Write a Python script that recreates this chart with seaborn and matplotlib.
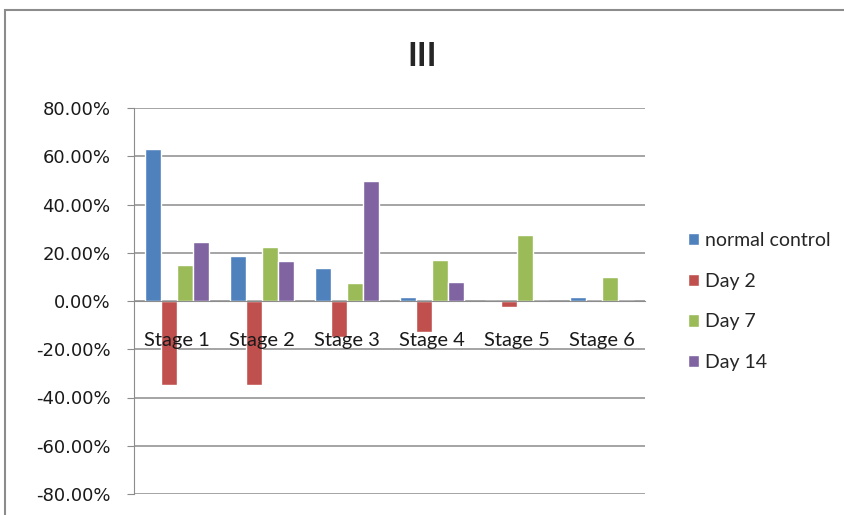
import matplotlib as mpl
mpl.use('Agg')
import matplotlib.pyplot as plt
import matplotlib.ticker as mtick
from matplotlib.patches import Rectangle
import seaborn as sns
import pandas as pd

stages = ['Stage 1', 'Stage 2', 'Stage 3', 'Stage 4', 'Stage 5', 'Stage 6']
series_names = ['normal control', 'Day 2', 'Day 7', 'Day 14']
normal_control = [63.0, 18.5, 13.5, 1.8, 0.0, 1.8]
day_2 = [-35.0, -35.0, -15.0, -12.7, -2.4, 0.0]
day_7 = [15.0, 22.3, 7.6, 17.0, 27.5, 10.0]
day_14 = [24.4, 16.4, 49.8, 8.0, 0.0, 0.0]
yticks = [-80, -60, -40, -20, 0, 20, 40, 60, 80]

colors = ['#4F81BD', '#C0504D', '#9BBB59', '#8064A2']

rows = []
for name, vals in zip(series_names, [normal_control, day_2, day_7, day_14]):
  for st, v in zip(stages, vals):
    rows.append({'stage': st, 'series': name, 'value': v})
df = pd.DataFrame(rows)

sns.set_style('white')
plt.rcParams['font.family'] = ['Lato', 'DejaVu Sans']

fig = plt.figure(figsize=(8.44, 5.15), dpi=100)
ax = fig.add_axes([134/844, 21/515, 511/844, 386/515])

# gridlines behind the bars, tick labels in front of them
for yt in yticks:
  ax.axhline(yt, color='#8c8c8c', linewidth=1.1, zorder=0.5)

sns.barplot(data=df, x='stage', y='value', hue='series', hue_order=series_names,
            palette=colors, width=0.75, saturation=1, ax=ax, legend=True)

ax.set_ylim(-80, 80)
ax.set_xlim(-0.5, 5.5)
ax.set_yticks(yticks)
ax.yaxis.set_major_formatter(mtick.FuncFormatter(lambda v, p: f'{v:.2f}%'))
ax.set_xlabel('')
ax.set_ylabel('')
ax.grid(False)
ax.set_axisbelow(False)

for s in ['top', 'right']:
  ax.spines[s].set_visible(False)
ax.spines['left'].set_color('#8c8c8c')
ax.spines['bottom'].set_position(('data', 0))
ax.spines['bottom'].set_color('#8c8c8c')

ax.set_xticks([0, 1, 2, 3, 4, 5])
ax.set_xticks([-0.5, 0.5, 1.5, 2.5, 3.5, 4.5, 5.5], minor=True)
ax.tick_params(axis='x', which='major', length=0, pad=22, labelsize=14.5, colors='#1a1a1a')
ax.tick_params(axis='x', which='minor', length=5, color='#8c8c8c', direction='out')
ax.tick_params(axis='y', length=5, color='#8c8c8c', direction='out', pad=12,
               labelcolor='#1a1a1a', left=True)
for lab in ax.get_yticklabels():
  lab.set_fontfamily('DejaVu Sans')
  lab.set_fontsize(13)

handles, labels = ax.get_legend_handles_labels()
ax.get_legend().remove()
fig.legend(handles, labels, loc='center left', bbox_to_anchor=(670/844, 1 - 301.5/515),
           frameon=False, fontsize=14, labelspacing=1.22, handlelength=0.6, handleheight=0.6,
           handletextpad=0.3)

fig.text(422/844, 1 - 56/515, 'III', ha='center', va='center', fontsize=24, fontweight='bold')

fig.patches.append(Rectangle((5/844, -0.1), 1.1, 1.1 - 10/515, transform=fig.transFigure,
                             fill=False, edgecolor='#8c8c8c', linewidth=1.5))

fig.savefig('out.png', dpi=100)
